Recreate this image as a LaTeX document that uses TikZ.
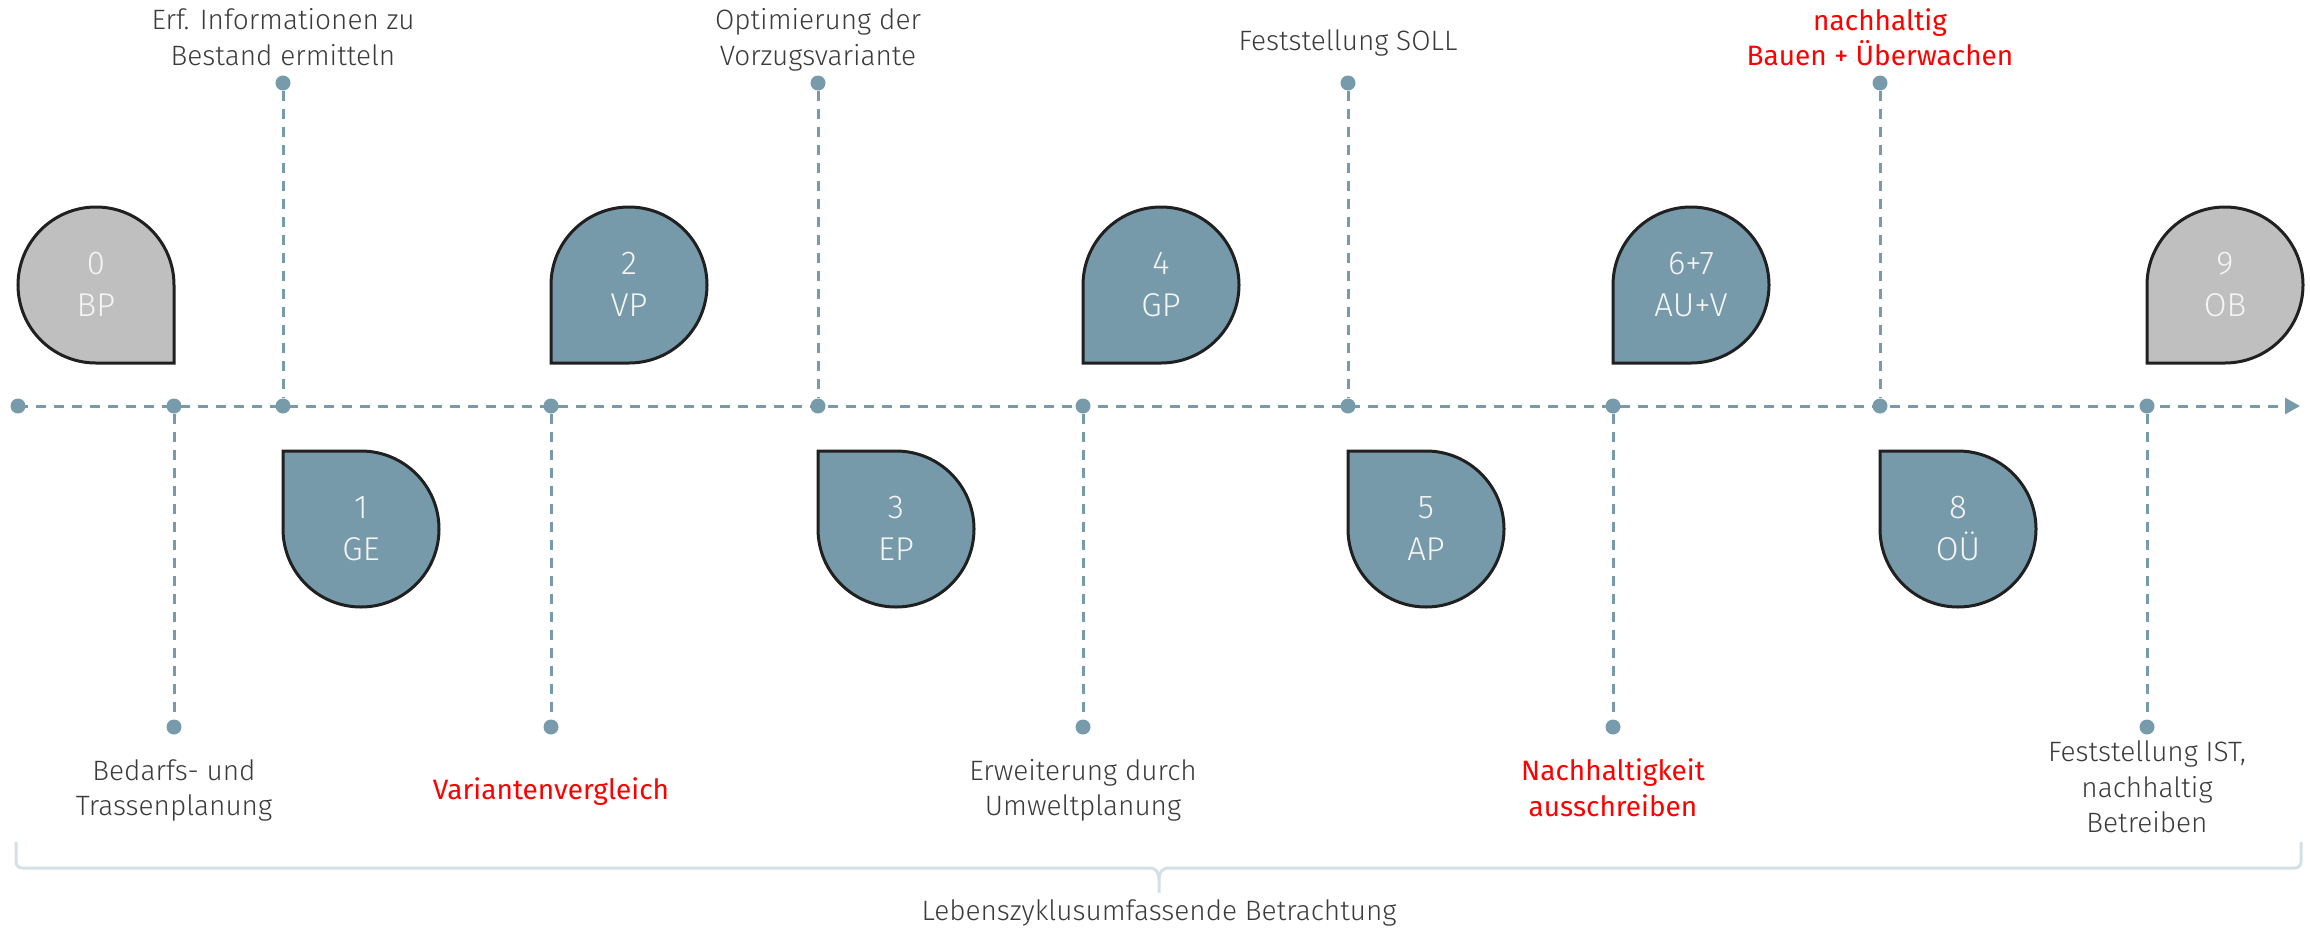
\documentclass[tikz,border=0pt]{standalone}
\usepackage{fontspec}
\usetikzlibrary{arrows.meta}
\newfontfamily\lightf{Fira Sans Light}
\newfontfamily\regf{Fira Sans}
\definecolor{tealc}{HTML}{769AAA}
\definecolor{grayc}{HTML}{BFBFBF}
\definecolor{outl}{HTML}{202020}
\definecolor{linec}{HTML}{779BAB}
\definecolor{brac}{HTML}{D5E0E6}
\definecolor{darktxt}{HTML}{3B3B3B}
\definecolor{redtxt}{HTML}{FF0000}
\definecolor{droptxt}{HTML}{F4F4F4}
\tikzset{
  dot/.style={circle, fill=linec, inner sep=0pt, minimum size=15pt},
  dline/.style={draw=linec, line width=3pt, dash pattern=on 10pt off 8pt},
  dropT/.style={fill=tealc, draw=outl, line width=3pt},
  dropG/.style={fill=grayc, draw=outl, line width=3pt},
  droptext/.style={text=droptxt, align=center, inner sep=0pt,
    font=\lightf\fontsize{33}{42}\selectfont,
    execute at begin node=\strut, execute at end node=\strut},
  lbl/.style={text=darktxt, align=center, inner sep=0pt,
    font=\lightf\fontsize{28}{35.5}\selectfont,
    execute at begin node=\strut, execute at end node=\strut},
  redlbl/.style={lbl, text=redtxt, font=\regf\fontsize{28}{35.5}\selectfont},
}
\begin{document}
\begin{tikzpicture}[x=1pt, y=-1pt]
\useasboundingbox (0,0) rectangle (2310,927);
% axis dots
\foreach \n/\x in {a0/18, a1/174, a2/283, a3/551, a4/818, a5/1083, a6/1348, a7/1613, a8/1880, a9/2147}
  \node[dot] (\n) at (\x,406) {};
\coordinate (tip) at (2300,406);
% top dots
\foreach \n/\x in {t2/283, t4/818, t6/1348, t8/1880}
  \node[dot] (\n) at (\x,83) {};
% bottom dots
\foreach \n/\x in {b1/174, b3/551, b5/1083, b7/1613, b9/2147}
  \node[dot] (\n) at (\x,727) {};
% axis
\draw[dline, -{Triangle[length=15pt,width=16pt]}] (a0.center) -- (tip);
% verticals
\draw[dline] (t2) -- (a2);
\draw[dline] (t4) -- (a4);
\draw[dline] (t6) -- (a6);
\draw[dline] (t8) -- (a8);
\draw[dline] (a1) -- (b1);
\draw[dline] (a3) -- (b3);
\draw[dline] (a5) -- (b5);
\draw[dline] (a7) -- (b7);
\draw[dline] (a9) -- (b9);
% drops upper
\draw[dropG] (174,363) -- (96,363) arc[start angle=90, end angle=360, radius=78] -- cycle;
\draw[dropT] (551,363) -- (551,285) arc[start angle=180, end angle=450, radius=78] -- cycle;
\draw[dropT] (1083,363) -- (1083,285) arc[start angle=180, end angle=450, radius=78] -- cycle;
\draw[dropT] (1613,363) -- (1613,285) arc[start angle=180, end angle=450, radius=78] -- cycle;
\draw[dropG] (2147,363) -- (2147,285) arc[start angle=180, end angle=450, radius=78] -- cycle;
% drops lower
\draw[dropT] (283,451) -- (361,451) arc[start angle=-90, end angle=180, radius=78] -- cycle;
\draw[dropT] (818,451) -- (896,451) arc[start angle=-90, end angle=180, radius=78] -- cycle;
\draw[dropT] (1348,451) -- (1426,451) arc[start angle=-90, end angle=180, radius=78] -- cycle;
\draw[dropT] (1880,451) -- (1958,451) arc[start angle=-90, end angle=180, radius=78] -- cycle;
% drop texts
\node[droptext] (d0) at (96,291) {0\\BP};
\node[droptext] (d1) at (361,535) {1\\GE};
\node[droptext] (d2) at (629,291) {2\\VP};
\node[droptext] (d3) at (896,535) {3\\EP};
\node[droptext] (d4) at (1161,291) {4\\GP};
\node[droptext] (d5) at (1426,535) {5\\AP};
\node[droptext] (d6) at (1691,291) {6+7\\AU+V};
\node[droptext] (d8) at (1958,535) {8\\OÜ};
\node[droptext] (d9) at (2225,291) {9\\OB};
% top labels
\node[lbl] (l2) at (283,42.5) {Erf. Informationen zu\\Bestand ermitteln};
\node[lbl] (l4) at (818,42.5) {Optimierung der\\Vorzugsvariante};
\node[lbl] (l6) at (1348,43) {Feststellung SOLL};
\node[redlbl] (l8) at (1880,42.5) {nachhaltig\\Bauen + Überwachen};
% bottom labels
\node[lbl] (l1) at (174,793) {Bedarfs- und\\Trassenplanung};
\node[redlbl] (l3) at (551,792) {Variantenvergleich};
\node[lbl] (l5) at (1083,793) {Erweiterung durch\\Umweltplanung};
\node[redlbl] (l7) at (1613,793) {Nachhaltigkeit\\ausschreiben};
\node[lbl] (l9) at (2147,792) {Feststellung IST,\\nachhaltig\\Betreiben};
% bracket
\draw[brac, line width=3pt, rounded corners=6pt] (16,842) -- (16,868) -- (1149,868);
\draw[brac, line width=3pt, rounded corners=6pt] (2301,842) -- (2301,868) -- (1169,868);
\draw[brac, line width=3pt] (1149,868) .. controls (1156,868) and (1159,872) .. (1159,880) -- (1159,893);
\draw[brac, line width=3pt] (1169,868) .. controls (1162,868) and (1159,872) .. (1159,880);
\node[lbl] (lz) at (1159,913) {Lebenszyklusumfassende Betrachtung};
\end{tikzpicture}
\end{document}
